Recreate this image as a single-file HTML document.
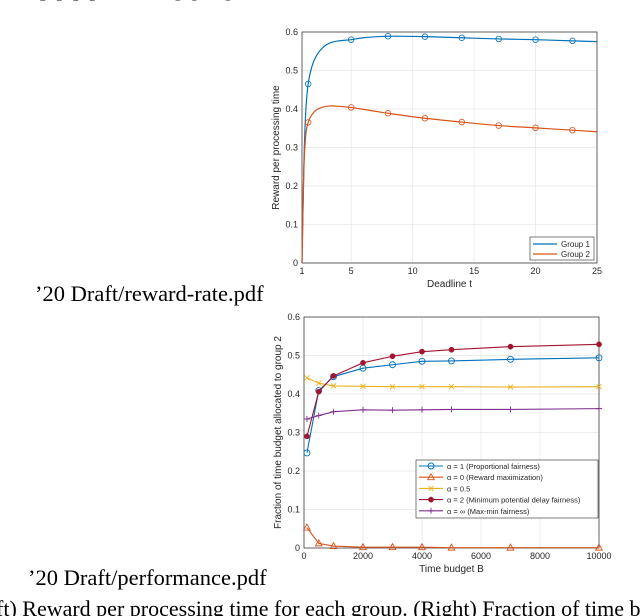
<!DOCTYPE html>
<html><head><meta charset="utf-8"><style>
html,body{margin:0;padding:0;background:#fff;width:640px;height:616px;overflow:hidden}
svg{display:block}
.t{font-family:"Liberation Sans",sans-serif;fill:#262626}
.s{font-family:"Liberation Serif",serif;fill:#000}
</style></head><body>
<svg id="svg" width="640" height="616" xmlns="http://www.w3.org/2000/svg">
<text class="s" x="40" y="-4" font-size="22">p                p     p   processing              g               ing,</text>
<text class="s" x="35" y="301" font-size="22.5">’20 Draft/reward-rate.pdf</text>
<text class="s" x="28" y="585" font-size="22.5">’20 Draft/performance.pdf</text>
<text class="s" x="-4" y="616" font-size="22">ft) Reward per processing time for each group. (Right) Fraction of time bud</text>
<g id="c1"></g>
<g id="c2"></g>
</svg>
<script>
// Chart 1 data
const t1 = [1,1.15,1.3,1.5,1.8,2.2,2.7,3.3,4,5,6,8,11,14,17,20,23,25];
const g1 = [0,0.25,0.39,0.465,0.51,0.54,0.56,0.572,0.577,0.58,0.585,0.589,0.588,0.585,0.582,0.58,0.577,0.575];
const g2 = [0,0.24,0.33,0.365,0.385,0.398,0.405,0.408,0.407,0.404,0.399,0.389,0.376,0.366,0.357,0.351,0.345,0.341];
const markT1 = [1.5,5,8,11,14,17,20,23];
const xTicks1 = [1,5,10,15,20,25];
const yTicks1 = [0,0.1,0.2,0.3,0.4,0.5,0.6];
// Chart 2 data
const B = [100,500,1000,2000,3000,4000,5000,7000,10000];
const a1 = [0.247,0.409,0.445,0.467,0.476,0.485,0.486,0.490,0.494];
const a0 = [0.053,0.012,0.005,0.002,0.002,0.002,0.001,0.001,0.001];
const a05 = [0.442,0.428,0.421,0.420,0.419,0.419,0.419,0.418,0.419];
const a2 = [0.290,0.406,0.447,0.481,0.498,0.510,0.515,0.523,0.529];
const ainf = [0.335,0.344,0.354,0.359,0.358,0.359,0.360,0.360,0.362];
const xTicks2 = [0,2000,4000,6000,8000,10000];
const yTicks2 = [0,0.1,0.2,0.3,0.4,0.5,0.6];

const NS="http://www.w3.org/2000/svg";
function mk(p,tag,at,txt){const e=document.createElementNS(NS,tag);for(const k in at)e.setAttribute(k,at[k]);if(txt!==undefined)e.textContent=txt;p.appendChild(e);return e;}

function axes(g,L,R,T,Bt,x,y,xt,yt,xl,yl){
  const bg=mk(g,'rect',{x:L,y:T,width:R-L,height:Bt-T,fill:'#fff',stroke:'none'});
  
  
  xt.forEach(v=>{const l=mk(g,'line',{x1:x(v),x2:x(v),y1:T,y2:Bt,stroke:'#e6e6e6','stroke-width':0.7});
    
    
    const tk=mk(g,'text',{class:'t',x:x(v),y:Bt+11,'font-size':9,'text-anchor':'middle'},String(v));
    
    });
  yt.forEach(v=>{const l=mk(g,'line',{x1:L,x2:R,y1:y(v),y2:y(v),stroke:'#e6e6e6','stroke-width':0.7});
    
    
    const tk=mk(g,'text',{class:'t',x:L-4,y:y(v)+3,'font-size':9,'text-anchor':'end'},v===0?'0':String(v));
    
    });
  const fr=mk(g,'rect',{x:L,y:T,width:R-L,height:Bt-T,fill:'none',stroke:'#262626','stroke-width':0.7});
  
  
  const xa=mk(g,'text',{class:'t',x:(L+R)/2,y:Bt+24,'font-size':10,'text-anchor':'middle'},xl);
  
  
  const cy=(T+Bt)/2;
  const ya=mk(g,'text',{class:'t',x:L-23,y:cy,'font-size':10,'text-anchor':'middle',transform:`rotate(-90 ${L-23} ${cy})`},yl);
  
  
}
function smooth(pts){let d=`M${pts[0][0]},${pts[0][1]}`;
  for(let i=0;i<pts.length-1;i++){const p0=pts[i-1]||pts[i],p1=pts[i],p2=pts[i+1],p3=pts[i+2]||p2;
    d+=` C${p1[0]+(p2[0]-p0[0])/6},${p1[1]+(p2[1]-p0[1])/6} ${p2[0]-(p3[0]-p1[0])/6},${p2[1]-(p3[1]-p1[1])/6} ${p2[0]},${p2[1]}`;}
  return d;}
function interp(xs,ys,v){for(let i=0;i<xs.length-1;i++)if(v>=xs[i]&&v<=xs[i+1]){const f=(v-xs[i])/(xs[i+1]-xs[i]);return ys[i]+f*(ys[i+1]-ys[i]);}return ys[ys.length-1];}

// Chart 1
(function(){
  const g=document.getElementById('c1');
  const L=302,R=597,T=32,Bt=263;
  const x=v=>L+(v-1)/24*(R-L), y=v=>Bt-v/0.6*(Bt-T);
  axes(g,L,R,T,Bt,x,y,xTicks1,yTicks1,'Deadline t','Reward per processing time');
  [[g1,'#0072BD','group-1'],[g2,'#D95319','group-2']].forEach(([ys,c,n])=>{
    const p=mk(g,'path',{d:smooth(t1.map((t,i)=>[x(t),y(ys[i])])),fill:'none',stroke:c,'stroke-width':1.2});
    
    
    markT1.forEach(t=>{const m=mk(g,'circle',{cx:x(t),cy:y(interp(t1,ys,t)),r:2.8,fill:'none',stroke:c,'stroke-width':0.8});
      
      });
  });
  const lg=mk(g,'g',{});
  
  
  mk(lg,'rect',{x:530,y:237,width:64,height:23,fill:'#fff',stroke:'#262626','stroke-width':0.6});
  [['Group 1','#0072BD'],['Group 2','#D95319']].forEach(([s,c],i)=>{
    const yy=244+i*10;
    mk(lg,'line',{x1:533,x2:557,y1:yy,y2:yy,stroke:c,'stroke-width':1.2});
    const e=mk(lg,'text',{class:'t',x:561,y:yy+3,'font-size':8},s);
    
    
  });
})();

// Chart 2
(function(){
  const g=document.getElementById('c2');
  const L=304,R=599,T=317,Bt=548;
  const x=v=>L+v/10000*(R-L), y=v=>Bt-v/0.6*(Bt-T);
  axes(g,L,R,T,Bt,x,y,xTicks2,yTicks2,'Time budget B','Fraction of time budget allocated to group 2');
  function marker(p,type,cx,cy,c,n){let e;
    if(type==='o')e=mk(p,'circle',{cx,cy,r:3,fill:'none',stroke:c,'stroke-width':0.9});
    else if(type==='^')e=mk(p,'path',{d:`M${cx},${cy-3.5}L${cx+3.3},${cy+2.5}L${cx-3.3},${cy+2.5}Z`,fill:'none',stroke:c,'stroke-width':0.9});
    else if(type==='x')e=mk(p,'path',{d:`M${cx-2.5},${cy-2.5}L${cx+2.5},${cy+2.5}M${cx-2.5},${cy+2.5}L${cx+2.5},${cy-2.5}`,stroke:c,'stroke-width':0.9});
    else if(type==='*')e=mk(p,'circle',{cx,cy,r:2.6,fill:c,stroke:c,'stroke-width':0.5});
    else e=mk(p,'path',{d:`M${cx-3},${cy}L${cx+3},${cy}M${cx},${cy-3}L${cx},${cy+3}`,stroke:c,'stroke-width':0.9});
    
    }
  const series=[[a1,'#0072BD','o','alpha-1','α = 1 (Proportional fairness)'],
    [a0,'#D95319','^','alpha-0','α = 0 (Reward maximization)'],
    [a05,'#EDB120','x','alpha-0-5','α = 0.5'],
    [a2,'#A2142F','*','alpha-2','α = 2 (Minimum potential delay fairness)'],
    [ainf,'#7E2F8E','+','alpha-inf','α = ∞ (Max-min fairness)']];
  series.forEach(([ys,c,m,n])=>{
    const p=mk(g,'polyline',{points:B.map((b,i)=>x(b)+','+y(ys[i])).join(' '),fill:'none',stroke:c,'stroke-width':1.1});
    
    
    B.forEach((b,i)=>marker(g,m,x(b),y(ys[i]),c,n));
  });
  const lg=mk(g,'g',{});
  
  
  mk(lg,'rect',{x:416,y:460,width:182,height:58,fill:'#fff',stroke:'#262626','stroke-width':0.6});
  series.forEach(([ys,c,m,n,s],i)=>{
    const yy=466+i*11.2;
    mk(lg,'line',{x1:419,x2:443,y1:yy,y2:yy,stroke:c,'stroke-width':1.1});
    marker(lg,m,431,yy,c,n+'-legend');
    const e=mk(lg,'text',{class:'t',x:447,y:yy+3,'font-size':7.5},s);
    
    
  });
})();
</script>
</body></html>
